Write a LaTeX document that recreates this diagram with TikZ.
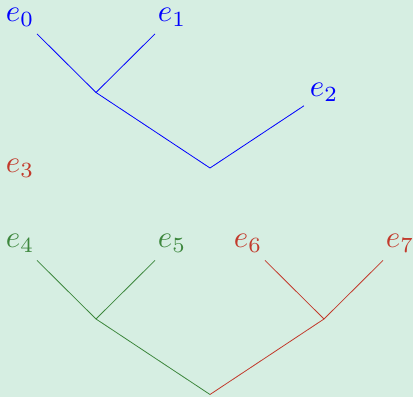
\documentclass[tikz,border=0pt]{standalone}
\definecolor{bgmint}{HTML}{D6EEE2}
\definecolor{leafblue}{HTML}{0000FF}
\definecolor{leafgreen}{HTML}{3D873D}
\definecolor{leafred}{HTML}{C23A2C}
\tikzset{
  leaf/.style={inner sep=0.3pt,scale=3.1,transform shape},
  branch/.style={line width=0.8pt},
  fromleaf/.style={branch,shorten <=24pt}
}
\begin{document}
\begin{tikzpicture}[x=76pt,y=75.5pt]
\fill[bgmint] (-20pt,17pt) rectangle (393pt,-380pt);
\useasboundingbox (-20pt,17pt) rectangle (393pt,-380pt);
% leaves
\node[leaf,text=leafblue] (e0) at (0,0) {$e_0$};
\node[leaf,text=leafblue] (e1) at (2,0) {$e_1$};
\node[leaf,text=leafblue] (e2) at (4,-1) {$e_2$};
\node[leaf,text=leafred] (e3) at (0,-2) {$e_3$};
\node[leaf,text=leafgreen] (e4) at (0,-3) {$e_4$};
\node[leaf,text=leafgreen] (e5) at (2,-3) {$e_5$};
\node[leaf,text=leafred] (e6) at (3,-3) {$e_6$};
\node[leaf,text=leafred] (e7) at (5,-3) {$e_7$};
% inner points
\coordinate (j01) at (1,-1);
\coordinate (r012) at (2.5,-2);
\coordinate (j45) at (1,-4);
\coordinate (j67) at (4,-4);
\coordinate (r47) at (2.5,-5);
% top tree
\draw[fromleaf,leafblue] (e0.center) -- (j01);
\draw[fromleaf,leafblue] (e1.center) -- (j01);
\draw[fromleaf,leafblue] (e2.center) -- (r012);
\draw[branch,leafblue] (j01) -- (r012);
% bottom tree
\draw[fromleaf,leafgreen] (e4.center) -- (j45);
\draw[fromleaf,leafgreen] (e5.center) -- (j45);
\draw[branch,leafgreen] (j45) -- (r47);
\draw[fromleaf,leafred] (e6.center) -- (j67);
\draw[fromleaf,leafred] (e7.center) -- (j67);
\draw[branch,leafred] (j67) -- (r47);
\end{tikzpicture}
\end{document}
